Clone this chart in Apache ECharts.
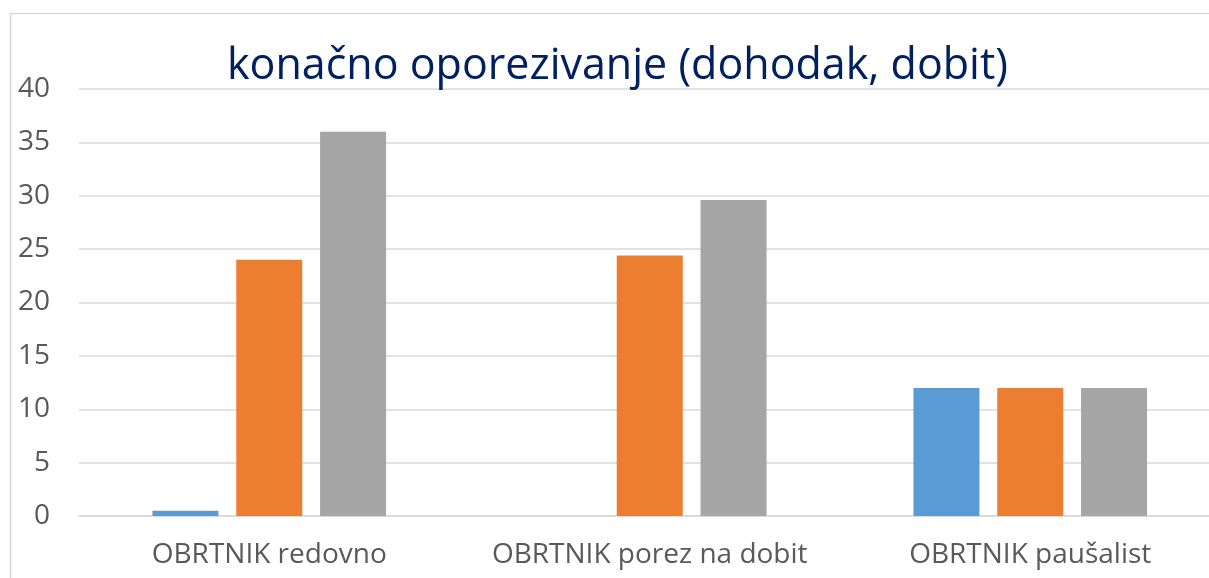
<!DOCTYPE html>
<html><head><meta charset="utf-8">
<script src="https://cdn.jsdelivr.net/npm/echarts@6/dist/echarts.min.js"></script>
<style>html,body{margin:0;padding:0;background:#fff;}#c{width:1209px;height:578px;}</style>
</head><body><div id="c"></div>
<script>
const titleText = 'konačno oporezivanje (dohodak, dobit)';
const categories = ['OBRTNIK redovno', 'OBRTNIK porez na dobit', 'OBRTNIK paušalist'];
const series1 = [0.5, 0, 12];
const series2 = [24, 24.4, 12];
const series3 = [36, 29.6, 12];
const yTicks = [0, 5, 10, 15, 20, 25, 30, 35, 40];

const chart = echarts.init(document.getElementById('c'), null, {renderer: 'canvas'});
const font = '"Open Sans", "Liberation Sans", sans-serif';
chart.setOption({
  animation: false,
  backgroundColor: '#fff',
  title: {
    text: titleText, left: 222, top: 40,
    textStyle: {fontFamily: font, fontSize: 43, fontWeight: 'normal', color: '#002060'}
  },
  graphic: [{type: 'rect', shape: {x: 10.5, y: 13.5, width: 1400, height: 800}, style: {fill: 'none', stroke: '#d9d9d9', lineWidth: 1.5}, z: 100}],
  grid: {left: 79, top: 89, height: 427, width: 1141.5, outerBoundsMode: 'none'},
  xAxis: {
    type: 'category', data: categories,
    axisLine: {show: true, lineStyle: {color: '#d9d9d9', width: 1.5}},
    axisTick: {show: false},
    axisLabel: {interval: 0, fontFamily: font, fontSize: 28, color: '#595959', margin: 25}
  },
  yAxis: {
    type: 'value', min: yTicks[0], max: yTicks[yTicks.length - 1], interval: 5,
    axisLine: {show: false}, axisTick: {show: false},
    splitLine: {lineStyle: {color: '#d9d9d9', width: 1.5}},
    axisLabel: {fontFamily: font, fontSize: 28, color: '#595959', margin: 29}
  },
  series: [
    {type: 'bar', data: series1, barWidth: 66, barGap: '27%', itemStyle: {color: '#5B9BD5'}},
    {type: 'bar', data: series2, barWidth: 66, barGap: '27%', itemStyle: {color: '#ED7D31'}},
    {type: 'bar', data: series3, barWidth: 66, barGap: '27%', itemStyle: {color: '#A5A5A5'}}
  ]
});
</script></body></html>
